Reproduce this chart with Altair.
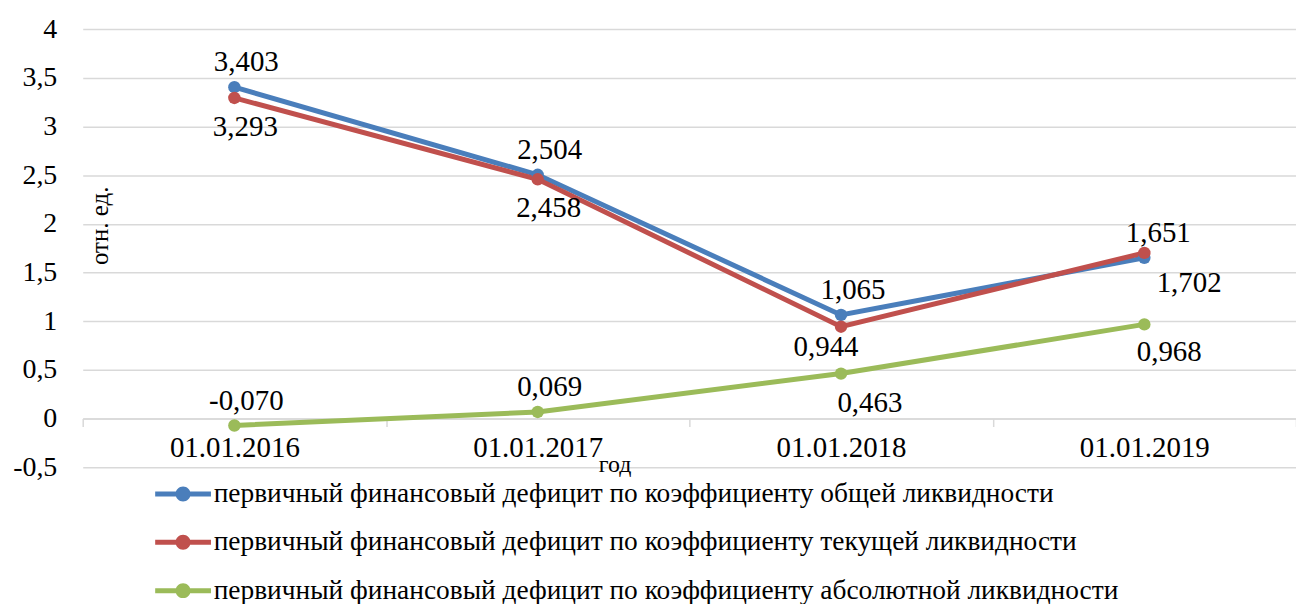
import altair as alt
import pandas as pd

dates = ["01.01.2016", "01.01.2017", "01.01.2018", "01.01.2019"]
series_names = [
    "первичный финансовый дефицит  по коэффициенту общей ликвидности",
    "первичный финансовый дефицит  по коэффициенту текущей ликвидности",
    "первичный финансовый дефицит  по коэффициенту абсолютной ликвидности",
]
general_vals = [3.403, 2.504, 1.065, 1.651]
current_vals = [3.293, 2.458, 0.944, 1.702]
absolute_vals = [-0.070, 0.069, 0.463, 0.968]
colors = ["#4A7EBB", "#C0504D", "#9BBB59"]
y_ticks = [-0.5, 0, 0.5, 1, 1.5, 2, 2.5, 3, 3.5, 4]

rows = []
for s, vals in zip(series_names, [general_vals, current_vals, absolute_vals]):
    for d, v in zip(dates, vals):
        rows.append({"date": d, "series": s, "value": v})
df = pd.DataFrame(rows)

FONT = "Liberation Serif"
S0, S1, S2 = series_names

x_enc = alt.X(
    "date:N",
    sort=dates,
    scale=alt.Scale(paddingInner=0, paddingOuter=0),
    axis=alt.Axis(
        title="год",
        titleFont=FONT,
        titleFontSize=24,
        titleFontWeight="normal",
        titleColor="black",
        titleX=534,
        titleY=46,
        titleAlign="center",
        titleBaseline="middle",
        labelAngle=0,
        labelFont=FONT,
        labelFontSize=29,
        labelColor="black",
        labelPadding=7,
        offset=-49,
        domainColor="#D9D9D9",
        domainWidth=1.5,
        tickColor="#D9D9D9",
        tickWidth=1.5,
        tickSize=8,
        tickBand="extent",
        grid=False,
    ),
)
y_enc = alt.Y(
    "value:Q",
    scale=alt.Scale(domain=[-0.5, 4], nice=False, zero=False),
    axis=alt.Axis(
        values=y_ticks,
        labelExpr="replace(toString(datum.value), '.', ',')",
        labelFont=FONT,
        labelFontSize=28,
        labelColor="black",
        labelPadding=26,
        domain=False,
        ticks=False,
        gridColor="#D9D9D9",
        gridWidth=1.5,
        title="отн. ед.",
        titleFont=FONT,
        titleFontSize=25,
        titleFontWeight="normal",
        titleColor="black",
        titleX=17,
        titleY=197,
        titleAlign="center",
        titleBaseline="middle",
        titleAngle=-90,
    ),
)

color_scale = alt.Scale(domain=series_names, range=colors)

legend_path = (
    "M-2.8,-0.25L2.8,-0.25L2.8,0.25L-2.8,0.25Z "
    "M0.75,0A0.75,0.75,0,1,1,-0.75,0A0.75,0.75,0,1,1,0.75,0Z"
)

legend = alt.Legend(
    orient="none",
    legendX=87,
    legendY=453,
    direction="vertical",
    title=None,
    labelFont=FONT,
    labelFontSize=27.5,
    labelColor="black",
    labelLimit=1200,
    labelOffset=17,
    symbolType=legend_path,
    symbolSize=400,
    symbolStrokeWidth=0,
    symbolOpacity=1,
    rowPadding=19.5,
    padding=0,
)

base = alt.Chart(df).encode(x=x_enc, y=y_enc)

lines = base.mark_line(strokeWidth=5).encode(
    color=alt.Color("series:N", scale=color_scale, legend=legend)
)

points = base.mark_circle(size=155, opacity=1).encode(
    fill=alt.Fill("series:N", scale=color_scale, legend=legend)
)

label_calc = "replace(replace(format(datum.value, '.3f'), '.', ','), '\u2212', '-')"


def labels(filter_expr, dx, dy):
    return (
        base.transform_filter(filter_expr)
        .transform_calculate(lbl=label_calc)
        .mark_text(font=FONT, fontSize=29, color="black", dx=dx, dy=dy)
        .encode(text="lbl:N")
    )


D19 = "'01.01.2019'"
D18 = "'01.01.2018'"

above = labels(
    f"(datum.series == '{S0}' && datum.date != {D19}) || "
    f"(datum.series == '{S2}' && (datum.date == '01.01.2016' || datum.date == '01.01.2017'))",
    12,
    -25,
)
above_2019 = labels(f"datum.series == '{S0}' && datum.date == {D19}", 14, -25)
below = labels(
    f"datum.series == '{S1}' && datum.date != {D19} && datum.date != {D18}",
    11,
    29,
)
below_red_2018 = labels(f"datum.series == '{S1}' && datum.date == {D18}", -15, 20)
below_green_2018 = labels(f"datum.series == '{S2}' && datum.date == {D18}", 29, 30)
below_red_2019 = labels(f"datum.series == '{S1}' && datum.date == {D19}", 45, 30)
below_green_2019 = labels(f"datum.series == '{S2}' && datum.date == {D19}", 25, 28)

chart = (
    alt.layer(
        lines,
        points,
        above,
        above_2019,
        below,
        below_red_2018,
        below_green_2018,
        below_red_2019,
        below_green_2019,
    )
    .properties(
        width=1218,
        height=440,
        autosize=alt.AutoSizeParams(type="none"),
        padding={"left": 75, "top": 20, "right": 0, "bottom": 136},
    )
    .configure_view(stroke=None)
)

chart.save("out.html", embed_options={"renderer": "svg", "actions": False})
